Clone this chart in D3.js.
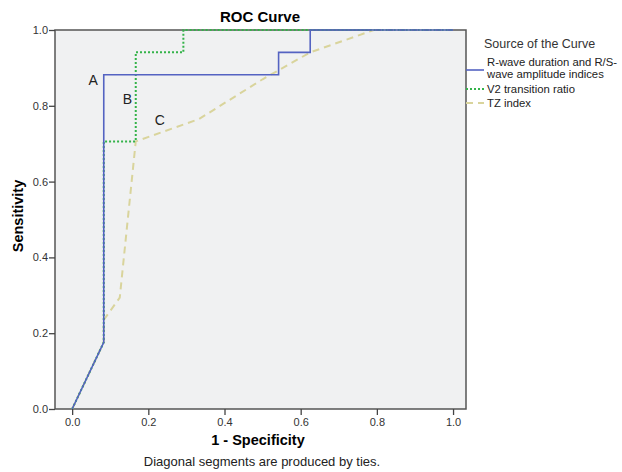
<!DOCTYPE html>
<html lang="en">
  <head>
    <meta charset="UTF-8" />
    <title>ROC Curve</title>
    <style>
      body {
        margin: 0;
        background-color: white;
        font-family: Arial, "Liberation Sans", sans-serif;
      }
      .tick text {
        font-size: 11px;
        fill: #333;
      }
    </style>
  </head>
  <body>
    <script src="https://d3js.org/d3.v7.min.js"></script>
    <svg id="chart" width="622" height="472" style="display: block"></svg>
    <script>
      // 1 - specificity / sensitivity pairs for each test
      var rwaveX = [0, 0.083, 0.083, 0.542, 0.542, 0.625, 0.625, 1.0];
      var rwaveY = [0, 0.176, 0.882, 0.882, 0.941, 0.941, 1.0, 1.0];

      var v2X = [0, 0.083, 0.083, 0.167, 0.167, 0.292, 0.292, 1.0];
      var v2Y = [0, 0.176, 0.706, 0.706, 0.941, 0.941, 1.0, 1.0];

      var tzX = [0, 0.083, 0.083, 0.125, 0.167, 0.333, 0.5, 0.625, 0.792, 1.0];
      var tzY = [0, 0.176, 0.235, 0.294, 0.706, 0.765, 0.87, 0.941, 1.0, 1.0];

      var seriesNames = [
        "R-wave duration and R/S-|wave amplitude indices",
        "V2 transition ratio",
        "TZ index",
      ];
      var curveLabels = ["A", "B", "C"];
      var ticks = [0, 0.2, 0.4, 0.6, 0.8, 1.0];

      var svg = d3.select("#chart");

      // plot frame (pixels)
      var plotLeft = 55, plotRight = 466, plotTop = 30, plotBottom = 409;

      var x = d3.scaleLinear().domain([-0.045, 1.034]).range([plotLeft, plotRight]);
      var y = d3.scaleLinear().domain([0, 1]).range([plotBottom, plotTop]);

      svg
        .append("rect")
        .attr("x", plotLeft)
        .attr("y", plotTop)
        .attr("width", plotRight - plotLeft)
        .attr("height", plotBottom - plotTop)
        .attr("fill", "#f0f1f2")
        .attr("stroke", "#555")
        .attr("stroke-width", 1.5);

      var styles = [
        { color: "#5463c2", dash: null, width: 1.6 },
        { color: "#34b34a", dash: "2,2", width: 2 },
        { color: "#d9d49c", dash: "7,5", width: 2 },
      ];

      var series = [
        d3.zip(rwaveX, rwaveY),
        d3.zip(v2X, v2Y),
        d3.zip(tzX, tzY),
      ];

      var line = d3
        .line()
        .x(function (d) {
          return x(d[0]);
        })
        .y(function (d) {
          return y(d[1]);
        });

      // draw C first so that A sits on top
      [2, 1, 0].forEach(function (i) {
        svg
          .append("path")
          .datum(series[i])
          .attr("d", line)
          .attr("fill", "none")
          .attr("stroke", styles[i].color)
          .attr("stroke-width", styles[i].width)
          .attr("stroke-dasharray", styles[i].dash);
      });

      // axes
      var xAxis = svg
        .append("g")
        .attr("transform", "translate(0," + plotBottom + ")")
        .call(
          d3
            .axisBottom(x)
            .tickValues(ticks)
            .tickFormat(d3.format(".1f"))
            .tickSize(6)
            .tickSizeOuter(0)
        );
      xAxis.select(".domain").remove();
      xAxis.selectAll(".tick line").attr("stroke", "#444").attr("stroke-width", 1.3);

      var yAxis = svg
        .append("g")
        .attr("transform", "translate(" + plotLeft + ",0)")
        .call(
          d3
            .axisLeft(y)
            .tickValues(ticks)
            .tickFormat(d3.format(".1f"))
            .tickSize(6)
            .tickSizeOuter(0)
        );
      yAxis.select(".domain").remove();
      yAxis.selectAll(".tick line").attr("stroke", "#444").attr("stroke-width", 1.3);
      yAxis.selectAll(".tick text").attr("x", -7);

      // curve letters
      var labelPos = [
        [0.055, 0.855],
        [0.145, 0.805],
        [0.23, 0.75],
      ];
      svg
        .selectAll(".curveLabel")
        .data(curveLabels)
        .enter()
        .append("text")
        .attr("x", function (d, i) {
          return x(labelPos[i][0]);
        })
        .attr("y", function (d, i) {
          return y(labelPos[i][1]);
        })
        .attr("text-anchor", "middle")
        .attr("font-size", 14)
        .attr("fill", "#222")
        .text(function (d) {
          return d;
        });

      // titles
      svg
        .append("text")
        .attr("x", 260)
        .attr("y", 22)
        .attr("text-anchor", "middle")
        .attr("font-size", 15)
        .attr("font-weight", "bold")
        .text("ROC Curve");

      svg
        .append("text")
        .attr("x", 258)
        .attr("y", 445)
        .attr("text-anchor", "middle")
        .attr("font-size", 14.5)
        .attr("font-weight", "bold")
        .text("1 - Specificity");

      svg
        .append("text")
        .attr("transform", "translate(23,216) rotate(-90)")
        .attr("text-anchor", "middle")
        .attr("font-size", 14.5)
        .attr("font-weight", "bold")
        .text("Sensitivity");

      svg
        .append("text")
        .attr("x", 262)
        .attr("y", 466)
        .attr("text-anchor", "middle")
        .attr("font-size", 13)
        .attr("fill", "#222")
        .text("Diagonal segments are produced by ties.");

      // legend
      var legend = svg.append("g");
      legend
        .append("text")
        .attr("x", 484)
        .attr("y", 48)
        .attr("font-size", 12.5)
        .attr("fill", "#333")
        .text("Source of the Curve");

      var legendY = [70, 89, 103];
      var legendTextY = [66, 93, 107];
      seriesNames.forEach(function (name, i) {
        legend
          .append("line")
          .attr("x1", plotRight)
          .attr("x2", 484)
          .attr("y1", legendY[i])
          .attr("y2", legendY[i])
          .attr("stroke", styles[i].color)
          .attr("stroke-width", styles[i].width)
          .attr("stroke-dasharray", styles[i].dash);
        var t = legend
          .append("text")
          .attr("x", 487)
          .attr("y", legendTextY[i])
          .attr("font-size", 11.3)
          .attr("fill", "#222");
        name.split("|").forEach(function (part, j) {
          t.append("tspan")
            .attr("x", 487)
            .attr("dy", j === 0 ? 0 : 12)
            .text(part);
        });
      });
    </script>
  </body>
</html>
